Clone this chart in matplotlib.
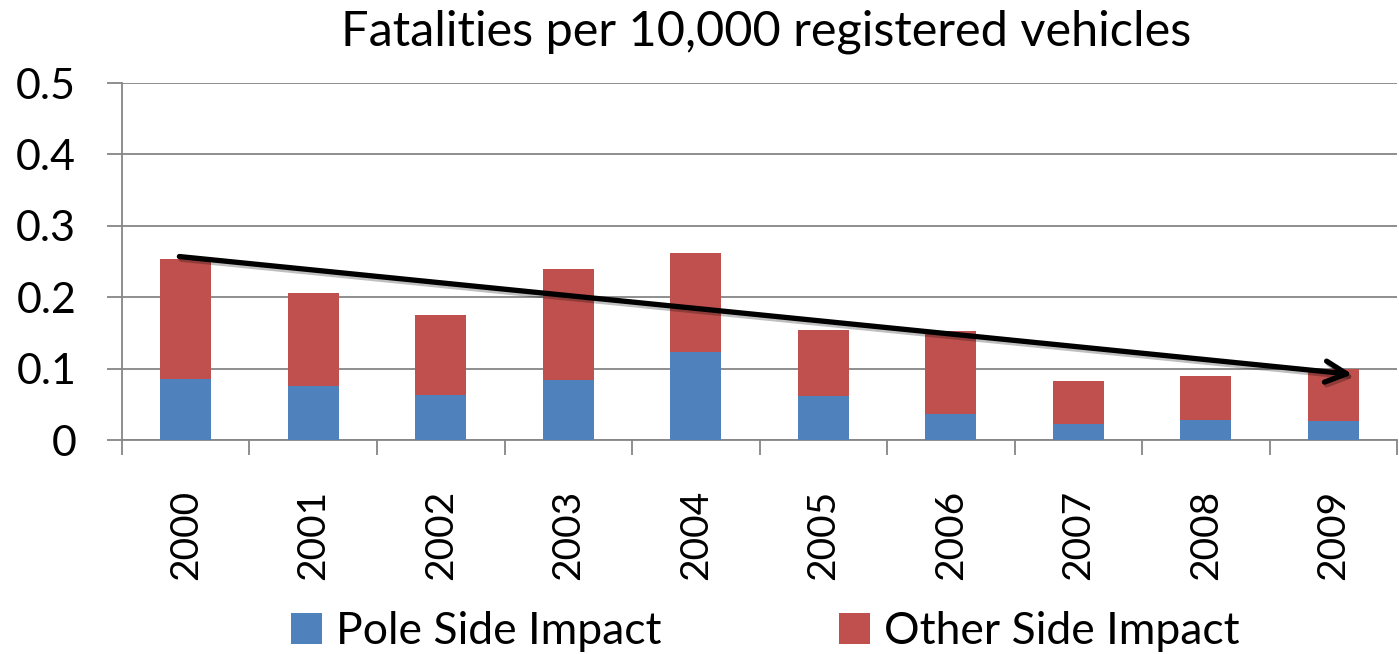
import numpy as np
import matplotlib.pyplot as plt
import matplotlib.patheffects as pe

years = ['2000', '2001', '2002', '2003', '2004', '2005', '2006', '2007', '2008', '2009']
pole_side = [0.085, 0.075, 0.063, 0.084, 0.123, 0.062, 0.037, 0.023, 0.028, 0.026]
other_side = [0.168, 0.131, 0.112, 0.156, 0.139, 0.092, 0.115, 0.059, 0.062, 0.073]
trend_start = 0.257
trend_end = 0.092

plt.rcParams['font.family'] = ['Lato', 'DejaVu Sans']

fig = plt.figure(figsize=(13.99, 6.54), dpi=100)
ax = fig.add_axes([0.0872, 0.3272, 0.9114, 0.5458])

x = np.arange(len(years))
grid_c = '#868686'

ax.bar(x, pole_side, width=0.4, color='#4F81BD', label='Pole Side Impact', zorder=3)
ax.bar(x, other_side, width=0.4, bottom=pole_side, color='#C0504D',
       label='Other Side Impact', zorder=3)

# trend arrow
ax.annotate('', xy=(9.15, trend_end), xytext=(-0.05, trend_start),
            arrowprops=dict(arrowstyle='->', color='black', lw=3.8,
                            mutation_scale=38, shrinkA=0, shrinkB=0,
                            path_effects=[pe.SimpleLineShadow(offset=(1.5, -2), alpha=0.25),
                                          pe.Normal()]),
            zorder=5)

ax.set_xlim(-0.5, 9.5)
ax.set_ylim(0, 0.5)
ax.set_yticks([0, 0.1, 0.2, 0.3, 0.4, 0.5])
ax.set_yticklabels(['0', '0.1', '0.2', '0.3', '0.4', '0.5'])
ax.set_xticks(x)
ax.set_xticklabels(years, rotation=90)
ax.set_xticks(np.arange(-0.5, 10, 1), minor=True)
ax.tick_params(axis='x', which='major', length=0, labelsize=28, pad=36)
ax.tick_params(axis='x', which='minor', length=11, width=1.3, color=grid_c)
ax.tick_params(axis='y', length=11, width=1.3, color=grid_c, labelsize=31, pad=22)

ax.grid(axis='y', color=grid_c, linewidth=1.3, zorder=0)
for s in ['top', 'right']:
    ax.spines[s].set_visible(False)
for s in ['left', 'bottom']:
    ax.spines[s].set_color(grid_c)
    ax.spines[s].set_linewidth(1.3)

fig.suptitle('Fatalities per 10,000 registered vehicles', fontsize=35,
             x=0.5475, y=0.985, va='top')

fig.legend(loc='center', bbox_to_anchor=(0.547, 0.034), ncol=2, frameon=False,
           fontsize=32, handlelength=0.7, handleheight=0.7, handletextpad=0.3,
           columnspacing=4.0)

fig.savefig('out.png', dpi=100)
